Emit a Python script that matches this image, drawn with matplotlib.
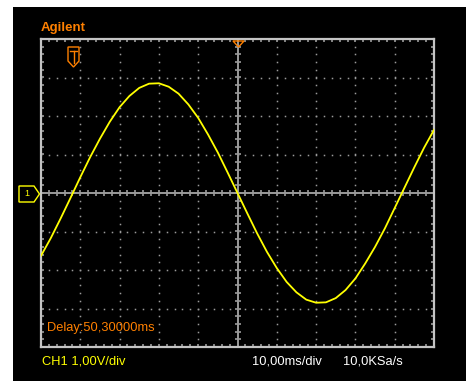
import numpy as np
import matplotlib
matplotlib.use('Agg')
import matplotlib.pyplot as plt
from matplotlib.patches import Rectangle, Polygon
from matplotlib.lines import Line2D

# trace: time (ms, 10 ms/div) and CH1 voltage (V, 1 V/div)
time_ms = [0, 2.5, 5, 7.5, 10, 12.5, 15, 17.5, 20, 22.5, 25, 27.5, 30, 32.5,
           35, 37.5, 40, 42.5, 45, 47.5, 50, 52.5, 55, 57.5, 60, 62.5, 65,
           67.5, 70, 72.5, 75, 77.5, 80, 82.5, 85, 87.5, 90, 92.5, 95, 97.5, 100]
ch1_volts = [-1.63, -1.17, -0.66, -0.13, 0.41, 0.93, 1.41, 1.85, 2.23, 2.52,
             2.73, 2.84, 2.85, 2.76, 2.58, 2.30, 1.95, 1.52, 1.05, 0.53, 0.00,
             -0.53, -1.05, -1.53, -1.95, -2.31, -2.58, -2.77, -2.85, -2.84,
             -2.73, -2.52, -2.22, -1.83, -1.40, -0.92, -0.39, 0.14, 0.67,
             1.18, 1.64]

brand = "Agilent"
delay_label = "Delay:50,30000ms"
ch_label = "CH1 1,00V/div"
tb_label = "10,00ms/div"
rate_label = "10,0KSa/s"

W, H = 466, 381
fig = plt.figure(figsize=(W / 100, H / 100), dpi=100)
fig.patch.set_facecolor('white')


def px(x, y):
    return x / W, 1 - y / H


# black screen area
fig.patches.append(Rectangle(px(13, 381), (W - 13) / W, (381 - 7) / H,
                             transform=fig.transFigure, facecolor='black',
                             edgecolor='none', zorder=-5))

left, top, right, bottom = 41, 39, 434, 347
ax = fig.add_axes([left / W, 1 - bottom / H, (right - left) / W, (bottom - top) / H])
ax.set_zorder(1)
ax.set_facecolor('black')
ax.set_xlim(0, 100)
ax.set_ylim(-4, 4)
ax.set_xticks([])
ax.set_yticks([])

grid_c = '#9a9a9a'
frame_c = '#c4c4c4'

# dotted graticule
fine_x = np.arange(0, 100.01, 2)
fine_y = np.arange(-4, 4.01, 0.2)
for gx in range(10, 100, 10):
    if gx == 50:
        continue
    ax.plot([gx] * len(fine_y), fine_y, ls='none', marker='s', ms=1.1,
            mec='none', mfc=grid_c)
for gy in range(-3, 4):
    if gy == 0:
        continue
    ax.plot(fine_x, [gy] * len(fine_x), ls='none', marker='s', ms=1.1,
            mec='none', mfc=grid_c)

# center axes with ticks
ax.axvline(50, color=grid_c, lw=1.4)
ax.axhline(0, color=grid_c, lw=1.4)
ax.plot([50] * len(fine_y), fine_y, ls='none', marker='_', ms=4.5, mew=1.2, color=grid_c)
ax.plot(fine_x, [0] * len(fine_x), ls='none', marker='|', ms=4.5, mew=1.2, color=grid_c)

# edge ticks
ax.plot(fine_x, [4] * len(fine_x), ls='none', marker='|', ms=4, mew=1.2, color=grid_c)
ax.plot(fine_x, [-4] * len(fine_x), ls='none', marker='|', ms=4, mew=1.2, color=grid_c)
ax.plot([0] * len(fine_y), fine_y, ls='none', marker='_', ms=4, mew=1.2, color=grid_c)
ax.plot([100] * len(fine_y), fine_y, ls='none', marker='_', ms=4, mew=1.2, color=grid_c)

for s in ax.spines.values():
    s.set_color(frame_c)
    s.set_linewidth(1.6)

# trace
ax.plot(time_ms, ch1_volts, color='#ffff00', lw=1.3, zorder=5)

orange = '#ff8000'
yellow = '#ffff00'
font = ['Liberation Sans', 'DejaVu Sans']

fig.text(*px(41, 28), brand, color=orange, fontsize=9.5, fontweight='bold',
         family=font, va='center', ha='left', zorder=3)

# trigger position marker (shield with T)
shield = [px(68, 47), px(79, 47), px(79, 61), px(73.5, 67), px(68, 61)]
fig.patches.append(Polygon(shield, closed=True, transform=fig.transFigure,
                           fill=False, edgecolor=orange, lw=1.0, zorder=6))
fig.lines.append(Line2D([70 / W, 77 / W], [1 - 51 / H, 1 - 51 / H],
                        transform=fig.transFigure, color=orange, lw=1.0, zorder=6))
fig.lines.append(Line2D([73.5 / W, 73.5 / W], [1 - 51 / H, 1 - 63 / H],
                        transform=fig.transFigure, color=orange, lw=1.0, zorder=6))

# trigger delay marker at top center
tri = [px(233, 41), px(244, 41), px(238.5, 47)]
fig.patches.append(Polygon(tri, closed=True, transform=fig.transFigure,
                           fill=False, edgecolor=orange, lw=1.0, zorder=6))

# channel 1 ground marker
gnd = [px(19, 186), px(34, 186), px(39.5, 194), px(34, 202), px(19, 202)]
fig.patches.append(Polygon(gnd, closed=True, transform=fig.transFigure,
                           fill=False, edgecolor=yellow, lw=1.0, zorder=6))
fig.text(*px(26.5, 194), "1", color=yellow, fontsize=6.5, family=font,
         va='center', ha='center', zorder=6)

fig.text(*px(47, 328), delay_label, color=orange, fontsize=9.3, family=font,
         va='center', ha='left', zorder=6)
fig.text(*px(42, 362), ch_label, color=yellow, fontsize=9.3, family=font,
         va='center', ha='left', zorder=6)
fig.text(*px(252, 362), tb_label, color='white', fontsize=9.3, family=font,
         va='center', ha='left', zorder=6)
fig.text(*px(343, 362), rate_label, color='white', fontsize=9.3, family=font,
         va='center', ha='left', zorder=6)

fig.savefig('out.png', dpi=100, facecolor=fig.get_facecolor())
